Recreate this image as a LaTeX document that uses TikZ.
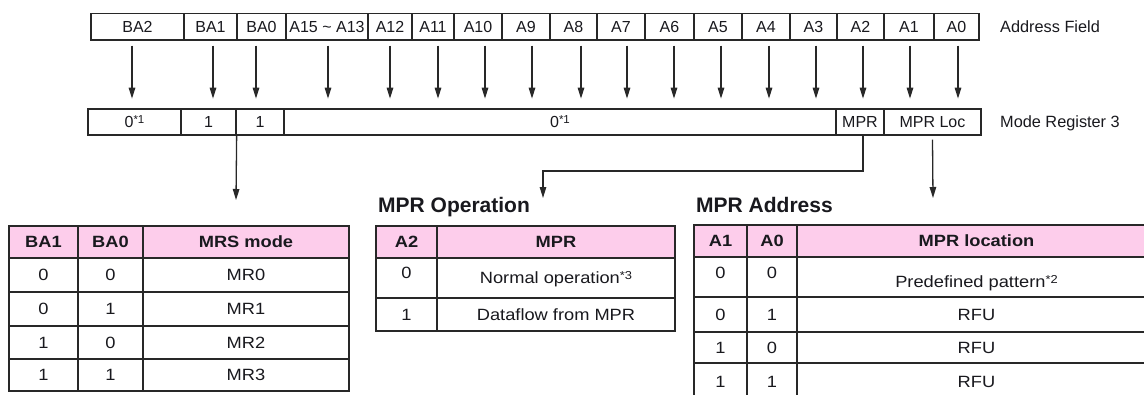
\documentclass[tikz,border=0pt]{standalone}
\usepackage{fontspec}
\setmainfont{Liberation Sans}
\newfontfamily\tabfont[FakeStretch=1.12]{Liberation Sans}
\usetikzlibrary{arrows.meta,calc}
\definecolor{hdrpink}{RGB}{253,205,235}
\definecolor{linec}{RGB}{40,40,40}
\definecolor{txtc}{RGB}{25,25,30}
\newcommand\supnote[1]{\raisebox{4.5pt}{\fontsize{11.5}{12}\selectfont #1}}
\newcommand\cellbox[7][]{%
  \pgfmathsetmacro\cbx{(#3+#4)/2}%
  \pgfmathsetmacro\cby{(#5+#6)/2}%
  \pgfmathsetmacro\cbw{#4-#3}%
  \pgfmathsetmacro\cbh{#6-#5}%
  \node[cell,minimum width=\cbw pt,minimum height=\cbh pt,#1] (#2) at (\cbx,\cby) {#7};}
\begin{document}
\begin{tikzpicture}[x=1pt,y=-1pt,
  cell/.style={draw=linec,line width=1.3pt,inner sep=0pt,text=txtc,
    text height=11.5pt,text depth=0pt,font=\fontsize{16}{19}\selectfont},
  tcell/.style={cell,line width=1.5pt,text height=11.7pt,font=\tabfont\fontsize{16.3}{19}\selectfont},
  hcell/.style={tcell,fill=hdrpink,font=\tabfont\bfseries\fontsize{16.3}{19}\selectfont},
  sidelabel/.style={anchor=west,inner sep=0pt,text=txtc,text height=11.5pt,text depth=0pt,
    font=\fontsize{16.3}{19}\selectfont},
  tabtitle/.style={anchor=base west,inner sep=0pt,text=txtc,font=\bfseries\fontsize{21}{24}\selectfont},
  arr/.style={draw=linec,line width=1.3pt,-{Triangle[length=11pt,width=6.5pt]}}]
\useasboundingbox (0,0) rectangle (1144,394);
\clip (0,0) rectangle (1144,394);
\fill[white] (0,0) rectangle (1144,394);

% Address field
\foreach \n/\a/\b/\t/\d in {a1/91/184/BA2/-5.5, a2/184/237/BA1/2.5, a3/237/286/BA0/-5.5,
  a4/286/368/A15 \textasciitilde{} A13/1, a5/368/412/A12/0, a6/412/454/A11/5,
  a7/454/502/A10/7, a8/502/550/A9/6, a9/550/597/A8/7.5, a10/597/645/A7/6,
  a11/645/694/A6/4.5, a12/694/742/A5/3, a13/742/790/A4/3, a14/790/837/A3/2.5,
  a15/837/884/A2/2.5, a16/884/934/A1/1, a17/934/979/A0/1.5}{
  \cellbox{\n}{\a}{\b}{13.5}{40}{\t}
  \draw[arr] ($(\n.south)+(\d,5)$) -- ($(\n.south)+(\d,58)$);
}
\node[sidelabel] (afl) at (1000,27) {Address Field};

% Mode register 3
\cellbox{m1}{88}{181}{109}{135}{0\supnote{*1}}
\cellbox{m2}{181}{236}{109}{135}{1}
\cellbox{m3}{236}{284}{109}{135}{1}
\cellbox{m4}{284}{836}{109}{135}{0\supnote{*1}}
\cellbox{m5}{836}{884}{109}{135}{MPR}
\cellbox{m6}{884}{981}{109}{135}{MPR Loc}
\node[sidelabel] (mrl) at (1000,122) {Mode Register 3};

% connectors to tables
\coordinate (t1) at (236,200);
\coordinate (c2) at (543,171);
\coordinate (t2) at (543,198);
\coordinate (t3) at (933,198);
\draw[arr] (m2.south east) -- (t1);
\draw[arr] ($(m5.south)+(3,0)$) |- (c2) -- (t2);
\draw[arr] ($(m6.south)+(0,4)$) -- (t3);

% Table 1: MRS mode
\cellbox[hcell]{h11}{9}{78}{226}{258}{BA1}
\cellbox[hcell]{h12}{78}{143}{226}{258}{BA0}
\cellbox[hcell]{h13}{143}{349}{226}{258}{MRS mode}
\foreach \r/\ya/\yb/\p/\q/\s in {1/258/292/0/0/MR0, 2/292/326/0/1/MR1,
  3/326/359/1/0/MR2, 4/359/391/1/1/MR3}{
  \cellbox[tcell]{r1\r a}{9}{78}{\ya}{\yb}{\p}
  \cellbox[tcell]{r1\r b}{78}{143}{\ya}{\yb}{\q}
  \cellbox[tcell]{r1\r c}{143}{349}{\ya}{\yb}{\s}
}

% Table 2: MPR Operation
\node[tabtitle] (tt2) at (378,212) {MPR Operation};
\cellbox[hcell]{h21}{376}{437}{226}{258}{A2}
\cellbox[hcell]{h22}{437}{675}{226}{258}{MPR}
\cellbox[tcell]{r21a}{376}{437}{258}{298}{\raisebox{5pt}{0}}
\cellbox[tcell]{r21b}{437}{675}{258}{298}{Normal operation\supnote{*3}}
\cellbox[tcell]{r22a}{376}{437}{298}{331}{1}
\cellbox[tcell]{r22b}{437}{675}{298}{331}{Dataflow from MPR}

% Table 3: MPR Address
\node[tabtitle] (tt3) at (696,212) {MPR Address};
\cellbox[hcell]{h31}{694}{747}{225}{257}{A1}
\cellbox[hcell]{h32}{747}{797}{225}{257}{A0}
\cellbox[hcell]{h33}{797}{1156}{225}{257}{MPR location}
\cellbox[tcell]{r31a}{694}{747}{257}{297}{\raisebox{4pt}{0}}
\cellbox[tcell]{r31b}{747}{797}{257}{297}{\raisebox{4pt}{0}}
\cellbox[tcell]{r31c}{797}{1156}{257}{297}{\raisebox{-5pt}{Predefined pattern\supnote{*2}}}
\foreach \r/\ya/\yb/\p/\q in {2/297/332/0/1, 3/332/363/1/0, 4/363/400/1/1}{
  \cellbox[tcell]{r3\r a}{694}{747}{\ya}{\yb}{\p}
  \cellbox[tcell]{r3\r b}{747}{797}{\ya}{\yb}{\q}
  \cellbox[tcell]{r3\r c}{797}{1156}{\ya}{\yb}{RFU}
}
\end{tikzpicture}
\end{document}
